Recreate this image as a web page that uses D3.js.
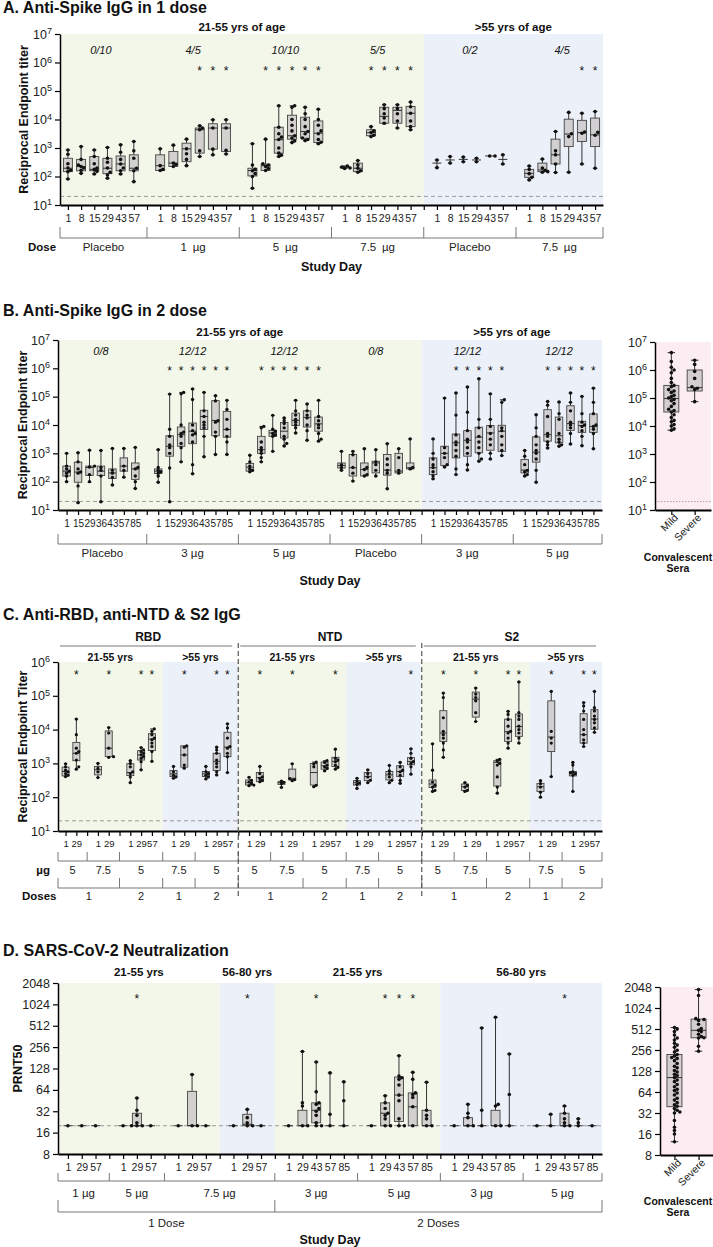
<!DOCTYPE html>
<html><head><meta charset="utf-8">
<script src="https://cdn.jsdelivr.net/npm/d3@7"></script>
<style>
body{margin:0;background:#fff}
svg{display:block;font-family:"Liberation Sans",Arial,Helvetica,sans-serif}
</style>
</head><body>
<svg id="chart" width="713" height="1247"></svg>
<script>
// ================= DATA =================
// ---- Panel A: anti-Spike IgG, 1 dose (values are log10 reciprocal endpoint titer) ----
const aDays = [1, 8, 15, 29, 43, 57];
const aDoseLabels = ["Placebo", "1\u2002µg", "5\u2002µg", "7.5\u2002µg", "Placebo", "7.5\u2002µg"];
const aFractions = ["0/10", "4/5", "10/10", "5/5", "0/2", "4/5"];
const aAges = ["21-55 yrs of age", ">55 yrs of age"];
// [min, q1, median, q3, max]
const aStats = [
  [1.91,2.17,2.29,2.64,2.93],[2.11,2.2,2.35,2.6,3.05],[2.09,2.2,2.25,2.7,2.93],[1.94,2.1,2.29,2.64,3.02],[2.09,2.2,2.44,2.72,3.11],[1.82,2.2,2.29,2.76,3.23],
  [2.21,2.21,2.38,2.76,2.97],[2.35,2.35,2.47,2.88,3.1],[2.38,2.52,2.97,3.17,3.31],[2.7,2.82,3.64,3.7,3.78],[2.76,2.96,3.7,3.85,3.99],[2.79,2.88,3.7,3.85,3.99],
  [1.59,2.02,2.21,2.29,3.15],[2.21,2.21,2.38,2.43,3.31],[2.7,2.82,3.29,3.73,4.48],[3.19,3.31,3.43,4.15,4.48],[3.26,3.34,3.58,4.08,4.43],[3.15,3.19,3.52,3.95,4.36],
  [2.28,2.3,2.33,2.35,2.37],[2.15,2.17,2.29,2.47,2.56],[3.4,3.43,3.54,3.64,3.75],[3.85,3.87,4.11,4.43,4.52],[3.7,3.87,4.32,4.43,4.52],[3.64,3.75,4.22,4.46,4.61],
  [2.31,2.47,2.47,2.47,2.58],[2.47,2.58,2.58,2.58,2.7],[2.52,2.6,2.6,2.6,2.68],[2.52,2.58,2.58,2.58,2.64],[2.72,2.72,2.72,2.72,2.72],[2.44,2.6,2.6,2.6,2.76],
  [1.88,1.97,2.11,2.25,2.37],[2.15,2.17,2.23,2.47,2.61],[2.14,2.44,2.76,3.31,3.58],[2.15,3.05,3.49,4.01,4.25],[2.44,3.23,3.54,3.97,4.22],[2.29,3.05,3.46,4.05,4.28]
];
const aPoints = [
  [2.93,2.78,2.45,2.3,2.22,2.17,1.91],[3.05,2.6,2.4,2.35,2.3,2.22,2.11],[2.93,2.7,2.45,2.3,2.25,2.18,2.09],[3.02,2.64,2.5,2.3,2.15,2.05,1.94],[3.11,2.85,2.6,2.44,2.3,2.2,2.09],[3.23,2.9,2.64,2.29,2.2,1.82],
  [2.97,2.38,2.25,2.21],[3.1,2.47,2.42,2.35],[3.31,2.97,2.8,2.6,2.38],[3.78,3.7,3.64,2.9,2.7],[3.99,3.7,2.96,2.76],[3.99,3.7,2.92,2.79],
  [3.15,2.4,2.25,2.2,2.1,2.0,1.59],[3.31,2.45,2.4,2.35,2.28,2.21],[4.48,3.73,3.5,3.38,3.3,3.0,2.82,2.75,2.7],[4.48,4.43,4.0,3.8,3.6,3.43,3.35,3.25,3.19],[4.43,4.2,4.0,3.75,3.58,3.5,3.35,3.3,3.26],[4.36,4.0,3.8,3.6,3.5,3.3,3.2,3.15],
  [2.37,2.33,2.3,2.28],[2.56,2.4,2.29,2.2,2.15],[3.75,3.6,3.54,3.45,3.4],[4.52,4.38,4.2,4.05,3.87],[4.52,4.38,4.2,3.95,3.7],[4.61,4.45,4.22,3.95,3.75,3.64],
  [2.58,2.31],[2.7,2.47],[2.68,2.52],[2.64,2.52],[2.72,2.72],[2.76,2.44],
  [2.37,2.25,2.1,1.97,1.88],[2.61,2.3,2.22,2.17,2.15],[3.58,2.9,2.76,2.44,2.14],[4.25,3.5,3.4,2.15],[4.22,3.56,3.52,2.44],[4.28,3.55,3.45,2.29]
];
const aStars = [9,10,11,13,14,15,16,17,20,21,22,23,34,35];

// ---- Panel B: anti-Spike IgG, 2 doses (log10 titer) ----
const bDays = [1, 15, 29, 36, 43, 57, 85];
const bDoseLabels = ["Placebo", "3 µg", "5 µg", "Placebo", "3 µg", "5 µg"];
const bFractions = ["0/8", "12/12", "12/12", "0/8", "12/12", "12/12"];
const bAges = ["21-55 yrs of age", ">55 yrs of age"];
const bStats = [
  [2.0,2.2,2.37,2.55,3.0],[1.26,1.98,2.34,2.69,3.02],[1.98,2.22,2.5,2.55,3.11],[1.29,2.22,2.37,2.55,3.1],[1.88,2.11,2.31,2.45,3.17],[2.16,2.37,2.55,2.84,3.17],[1.76,2.08,2.45,2.66,3.21],
  [1.98,2.29,2.37,2.45,3.13],[1.29,2.9,3.25,3.62,5.09],[2.7,3.25,3.66,3.93,5.15],[2.28,3.34,3.78,4.07,5.27],[2.88,3.84,4.3,4.52,5.15],[2.96,3.62,4.16,4.86,5.03],[2.96,3.57,3.84,4.48,4.87],
  [2.35,2.37,2.51,2.64,2.93],[2.7,3.0,3.13,3.6,3.95],[3.07,3.6,3.72,3.81,4.34],[3.26,3.54,3.78,4.09,4.25],[3.72,3.98,4.16,4.42,4.87],[3.46,3.93,4.27,4.5,4.74],[3.43,3.78,4.04,4.28,4.87],
  [2.4,2.48,2.57,2.66,3.07],[2.02,2.2,2.49,2.96,3.07],[2.2,2.2,2.43,2.66,3.16],[2.2,2.31,2.66,2.72,3.13],[1.75,2.23,2.41,2.96,3.34],[2.29,2.31,2.37,3.0,3.16],[2.43,2.45,2.49,2.66,3.51],
  [2.1,2.25,2.49,2.84,3.51],[2.52,2.57,3.0,3.25,4.95],[2.25,2.84,3.37,3.68,5.13],[2.41,2.9,3.46,3.8,5.34],[2.72,3.02,3.57,3.92,5.63],[2.8,3.11,3.72,3.98,5.1],[2.92,3.07,3.78,3.99,4.89],
  [2.2,2.31,2.41,2.78,3.1],[1.98,2.69,3.04,3.58,4.36],[3.19,3.43,3.66,4.54,4.83],[3.25,3.37,3.62,4.28,4.81],[3.33,3.81,4.05,4.68,5.13],[3.27,3.74,3.98,4.13,5.01],[3.16,3.74,3.95,4.39,5.3]
];
const bPoints = [
  [3.0,2.55,2.45,2.37,2.3,2.2,2.0],[3.02,2.7,2.45,2.34,2.3,1.85,1.26],[3.11,2.55,2.52,2.25,2.0],[3.1,2.5,2.4,2.2,1.29],[3.17,2.4,2.3,2.15,1.88],[3.17,2.55,2.4,2.16],[3.21,2.5,2.45,2.2,2.0,1.76],
  [3.13,2.5,2.4,2.35,2.3,2.2,1.98],[5.09,3.85,3.6,3.3,3.2,3.0,2.48,1.29],[5.15,5.1,4.0,3.75,3.7,3.6,3.35,3.2,2.7],[5.27,4.9,4.0,3.8,3.7,3.65,3.4,2.6,2.28],[5.15,4.5,4.3,4.1,4.0,3.9,3.6,2.88],[5.03,4.85,4.15,4.1,3.75,3.6,2.96],[4.87,4.55,4.2,3.85,3.6,3.4,2.96],
  [2.93,2.7,2.55,2.45,2.4,2.35],[3.95,3.9,3.4,3.2,3.1,3.0,2.85,2.7],[4.34,3.85,3.78,3.7,3.65,3.6,3.07],[4.25,4.15,4.05,3.9,3.6,3.5,3.35,3.26],[4.87,4.5,4.35,4.2,4.1,4.0,3.9,3.72],[4.74,4.5,4.35,4.25,4.0,3.8,3.46],[4.87,4.3,4.15,4.0,3.9,3.7,3.5,3.43],
  [3.07,2.6,2.5,2.4],[3.07,2.95,2.5,2.3,2.02],[3.16,2.5,2.43,2.25,2.2],[3.13,2.7,2.6,2.4,2.2],[3.34,2.8,2.6,2.4,2.3,1.75],[3.16,2.85,2.4,2.3],[3.51,2.5,2.45],
  [3.51,3.0,2.8,2.6,2.5,2.35,2.2,2.1],[4.95,3.2,3.0,2.85,2.6,2.52],[5.13,4.35,3.65,3.4,3.3,3.1,2.9,2.45,2.25],[5.34,4.45,3.8,3.5,3.4,3.2,3.0,2.6,2.41],[5.63,4.2,3.9,3.6,3.4,3.2,3.0,2.8,2.72],[5.1,4.2,3.95,3.7,3.5,3.3,3.0,2.8],[4.89,4.8,3.9,3.8,3.6,3.3,3.1,2.92],
  [3.1,2.9,2.6,2.4,2.35,2.25,2.2],[4.36,3.9,3.6,3.3,3.1,3.0,2.8,2.4,1.98],[4.83,4.7,4.3,3.7,3.6,3.4,3.3,3.19],[4.81,4.4,4.2,3.7,3.5,3.4,3.3,3.25],[5.13,4.8,4.5,4.1,4.0,3.9,3.7,3.33],[5.01,4.4,4.1,4.0,3.95,3.8,3.6,3.27],[5.3,4.8,4.4,4.0,3.95,3.85,3.7,3.16]
];
const bStars = [8,9,10,11,12,13,15,16,17,18,19,20,30,31,32,33,34,37,38,39,40,41];

// ---- Convalescent sera, anti-Spike IgG (log10 titer) ----
const convCats = ["Mild", "Severe"];
const convIgGStats = [[3.85,4.5,4.98,5.45,6.62],[4.87,5.25,5.37,6.0,6.35]];
const convIgGPoints = [
  [6.62,6.3,6.1,6.0,5.9,5.7,5.55,5.45,5.4,5.3,5.25,5.2,5.1,5.05,5.0,4.95,4.9,4.8,4.7,4.6,4.55,4.5,4.4,4.3,4.2,4.15,4.05,4.0,3.9,3.85],
  [6.35,6.2,5.95,5.7,5.4,5.35,5.3,4.87]
];

// ---- Panel C: anti-RBD, anti-NTD & S2 IgG (log10 titer) ----
const cAntigens = ["RBD", "NTD", "S2"];
const cDays = [[1,29],[1,29],[1,29,57],[1,29],[1,29,57]];
const cUg = ["5", "7.5", "5", "7.5", "5"];
const cDoses = ["1", "2", "1", "2"];
const cAges = ["21-55 yrs", ">55 yrs"];
const cStats = [
  [2.61,2.63,2.76,2.89,2.99],[2.83,3.08,3.3,3.62,4.31],[2.58,2.66,2.81,2.91,3.0],[3.18,3.2,3.45,3.96,4.06],[2.43,2.64,2.73,2.99,3.08],[2.81,3.1,3.25,3.38,3.47],[3.06,3.38,3.72,3.88,4.02],
  [2.56,2.61,2.69,2.79,2.91],[2.86,2.89,3.25,3.52,3.52],[2.54,2.61,2.69,2.76,2.91],[2.66,2.79,3.06,3.3,3.48],[2.73,3.2,3.48,3.92,4.17],
  [2.34,2.36,2.43,2.51,2.59],[2.46,2.46,2.58,2.73,2.91],[2.29,2.38,2.43,2.46,2.48],[2.49,2.51,2.56,2.83,2.99],[2.31,2.36,2.73,3.0,3.04],[2.78,2.83,2.93,3.04,3.08],[2.83,2.91,3.06,3.18,3.42],
  [2.26,2.36,2.43,2.49,2.56],[2.43,2.49,2.61,2.73,2.81],[2.43,2.51,2.66,2.76,2.94],[2.41,2.61,2.76,2.93,3.03],[2.68,2.96,3.06,3.17,3.43],
  [2.17,2.29,2.39,2.51,3.58],[3.18,3.65,3.9,4.56,5.08],[2.17,2.2,2.31,2.39,2.43],[4.24,4.37,4.9,5.11,5.23],[2.12,2.33,3.03,3.08,3.12],[3.45,3.65,3.94,4.31,4.54],[3.6,3.8,4.09,4.46,5.41],
  [2.0,2.17,2.31,2.41,2.49],[2.61,3.35,3.78,4.85,5.13],[2.17,2.63,2.71,2.76,3.03],[3.5,3.6,3.85,4.47,4.8],[3.92,4.01,4.31,4.59,5.13]
];
const cPoints = [
  [2.99,2.9,2.8,2.75,2.7,2.65,2.61],[4.31,3.85,3.45,3.35,3.3,3.1,2.9,2.83],[3.0,2.85,2.75,2.58],[4.06,3.9,3.45,3.2,3.18],[3.08,3.0,2.9,2.75,2.7,2.6,2.43],[3.47,3.4,3.35,3.3,3.25,3.2,3.15,3.05,2.81],[4.02,3.95,3.85,3.75,3.7,3.6,3.5,3.35,3.06],
  [2.91,2.75,2.65,2.6,2.56],[3.52,3.48,3.25,2.95,2.86],[2.91,2.75,2.7,2.65,2.6,2.54],[3.48,3.4,3.3,3.1,3.0,2.9,2.75,2.66],[4.17,4.05,3.75,3.5,3.45,3.3,3.2,2.73],
  [2.59,2.5,2.45,2.4,2.36,2.34],[2.91,2.7,2.6,2.55,2.5,2.46],[2.48,2.44,2.4,2.29],[2.99,2.55,2.52,2.49],[3.04,2.98,2.9,2.35,2.31],[3.08,3.03,2.95,2.9,2.85,2.78],[3.42,3.15,3.1,3.05,2.95,2.88,2.83],
  [2.56,2.48,2.42,2.38,2.26],[2.81,2.7,2.6,2.5,2.43],[2.94,2.78,2.7,2.6,2.5,2.43],[3.03,2.9,2.8,2.75,2.65,2.5,2.41],[3.43,3.3,3.15,3.05,3.0,2.9,2.68],
  [3.58,2.8,2.45,2.35,2.3,2.2,2.17],[5.08,4.95,4.35,3.95,3.85,3.75,3.6,3.4,3.18],[2.43,2.35,2.3,2.2,2.17],[5.23,5.05,4.95,4.85,4.5,4.24],[3.12,3.08,3.0,2.95,2.6,2.3,2.12],[4.54,4.45,4.3,4.1,3.95,3.9,3.75,3.6,3.45],[5.41,4.5,4.4,4.3,4.1,4.0,3.9,3.75,3.6],
  [2.49,2.4,2.3,2.15,2.0],[5.13,3.95,3.75,3.6,2.61],[3.03,2.95,2.75,2.72,2.7,2.65,2.17],[4.8,4.7,4.55,4.3,4.0,3.85,3.7,3.6,3.5],[5.13,4.65,4.55,4.4,4.3,4.2,4.05,3.92]
];
const cStars = [1,3,5,6,8,10,11, 13,15,18,23, 25,27,29,30,32,34,35];

// ---- Panel D: SARS-CoV-2 neutralization (PRNT50) ----
const dDays1 = [1, 29, 57];
const dDays2 = [1, 29, 43, 57, 85];
const dUg = ["1 µg", "5 µg", "7.5 µg", "3 µg", "5 µg", "3 µg", "5 µg"];
const dDoseLabels = ["1 Dose", "2 Doses"];
const dAges = ["21-55 yrs", "56-80 yrs", "21-55 yrs", "56-80 yrs"];
const dTicks = [8, 16, 32, 64, 128, 256, 512, 1024, 2048];
const dStats = [
  [20,20,20,20,20],[20,20,20,20,20],[20,20,20,20,20],
  [20,20,20,20,20],[20,20,20,30,49],[20,20,20,20,20],
  [20,20,20,20,20],[20,20,20,61,105],[20,20,20,20,20],
  [20,20,20,20,20],[20,20,21,29,34],[20,20,20,20,20],
  [20,20,20,20,20],[20,20,20,33,222],[20,22,33,42,158],[20,20,20,20,111],[20,20,20,20,83],
  [20,20,20,20,20],[20,20,30,42,53],[20,23,54,97,194],[20,20,37,58,113],[20,20,20,33,82],
  [20,20,20,20,20],[20,20,20,26,40],[20,20,20,20,477],[20,20,20,33,675],[20,20,20,20,205],
  [20,20,20,20,20],[20,20,20,20,29],[20,20,20,30,38],[20,20,20,20,25],[20,20,20,20,20]
];
const dPoints = [
  [20],[20],[20],
  [20],[49,33,28,22,20,20,20],[20],
  [20],[105,20,20],[20],
  [20],[34,26,22,20,20],[20],
  [20],[222,42,38,20,20],[158,60,42,40,35,32,28,22,20,20],[111,29,20],[83,45,20],
  [20],[53,42,35,30,28,25,20,20],[194,100,95,90,75,54,45,25,20,20],[113,90,58,55,50,37,20],[82,33,28,25,20,20],
  [20],[40,30,26,20,20],[477,33,20],[675,40,38,20,20],[205,55,20],
  [20],[29,20],[38,30,25,22,20,20],[25,22,20],[20]
];
const dStars = [4, 10, 14, 18, 19, 20, 29];
const convNeutStats = [[12.4,39.4,103,221,537],[246,383,490,710,1880]];
const convNeutPoints = [
  [537,510,470,420,380,355,320,301,280,254,240,221,210,200,194,180,164,150,142,130,124,115,110,103,95,90,82,76,70,67,62,58,52,49,45,42,40,37,35,33,32,25,20,18,16,12.4],
  [1880,1550,720,700,680,600,520,490,470,430,400,383,380,290,246]
];
const LOD = 20;

// ================= DRAWING =================
const svg = d3.select("#chart");
const GREEN = "#f3f7e9", BLUE = "#ecf0f8", PINK = "#fcedf3";
const pow10 = v => Math.pow(10, v);
const ident = v => v;

function layout(sizes) {
  let s = 0;
  const gs = sizes.map(n => { const a = d3.range(s, s + n); s += n + 1; return a; });
  return { N: s - 1, gs };
}

function spread(vals, yf, r) {
  const placed = [];
  const cands = [0, 1, -1, 2, -2, 3, -3, 4, -4, 5, -5];
  return vals.slice().sort((a, b) => a - b).map(v => {
    const yy = yf(v);
    let off = 0;
    for (const c of cands) {
      const cx = c * r * 1.5;
      if (!placed.some(p => Math.hypot(p.x - cx, p.y - yy) < r * 1.6)) { off = cx; break; }
    }
    placed.push({ x: off, y: yy });
    return { x: off, y: yy };
  });
}

function drawBox(g, cx, st, pts, y, w, r) {
  const [mn, q1, md, q3, mx] = st.map(y);
  const cw = Math.max(3, w * 0.5);
  const ln = (x1, y1, x2, y2, c, sw) => g.append("line").attr("x1", x1).attr("y1", y1).attr("x2", x2).attr("y2", y2).attr("stroke", c).attr("stroke-width", sw);
  if (mx < q3) { ln(cx, mx, cx, q3, "#333", 1); ln(cx - cw / 2, mx, cx + cw / 2, mx, "#333", 1); }
  if (mn > q1) { ln(cx, q1, cx, mn, "#333", 1); ln(cx - cw / 2, mn, cx + cw / 2, mn, "#333", 1); }
  g.append("rect").attr("x", cx - w / 2).attr("y", q3).attr("width", w).attr("height", Math.max(0, q1 - q3))
    .attr("fill", "#c6c2c2").attr("fill-opacity", 0.72).attr("stroke", "#444").attr("stroke-width", 0.9);
  ln(cx - w / 2, md, cx + w / 2, md, "#333", 1);
  spread(pts, y, r).forEach(p => g.append("circle").attr("cx", cx + p.x).attr("cy", p.y).attr("r", r).attr("fill", "#111"));
}

function txt(g, x, y, s, opt = {}) {
  const t = g.append("text").attr("x", x).attr("y", y).text(s)
    .attr("font-size", opt.size || 11).attr("text-anchor", opt.anchor || "middle").attr("fill", opt.fill || "#111");
  if (opt.bold) t.attr("font-weight", "bold");
  if (opt.italic) t.attr("font-style", "italic");
  if (opt.rotate) t.attr("transform", `rotate(${opt.rotate},${x},${y})`);
  return t;
}

function powLabels(gAxis) {
  gAxis.selectAll(".tick text").each(function (d) {
    const t = d3.select(this); t.text(null);
    t.append("tspan").text("10");
    t.append("tspan").attr("dy", "-0.5em").attr("font-size", "0.72em").text(Math.round(Math.log10(d)));
  });
}

function styleYAxis(ya, pow) {
  ya.select(".domain").attr("stroke", "#000").attr("stroke-width", 1.5);
  ya.selectAll(".tick line").attr("stroke", "#000").attr("stroke-width", 1.2);
  ya.selectAll(".tick text").attr("font-size", 12.5).attr("fill", "#222").attr("font-family", null);
  if (pow) powLabels(ya);
}

function drawPanel(c) {
  const g = svg.append("g");
  const lay = layout(c.groupSizes);
  const x = d3.scalePoint().domain(d3.range(lay.N)).range([c.L, c.R]).padding(c.pad);
  const y = c.y;
  const last = lay.gs.length - 1;
  const sStart = gi => gi === 0 ? c.L : x(lay.gs[gi][0] - 1);
  const sEnd = gi => gi === last ? c.R : x(lay.gs[gi][lay.gs[gi].length - 1] + 1);
  const gCenter = gi => (x(lay.gs[gi][0]) + x(lay.gs[gi][lay.gs[gi].length - 1])) / 2;

  // backgrounds + age headers
  c.bgs.forEach(([g0, g1, col, lab]) => {
    const x0 = sStart(g0), x1 = sEnd(g1);
    g.append("rect").attr("x", x0).attr("y", c.T).attr("width", x1 - x0).attr("height", c.B - c.T).attr("fill", col);
    txt(g, (x0 + x1) / 2, c.headY, lab, { bold: true, size: c.headSize || 11.5 });
  });
  // LOD
  g.append("line").attr("x1", c.L).attr("x2", c.R).attr("y1", y(LOD)).attr("y2", y(LOD))
    .attr("stroke", "#9a9a9a").attr("stroke-width", 1).attr("stroke-dasharray", "4,3");
  // fractions
  if (c.fractions) c.fractions.forEach((f, gi) => txt(g, gCenter(gi), c.fracY, f, { italic: true, size: 11 }));
  // boxes
  const slots = lay.gs.flat();
  const dayOf = {};
  slots.forEach((s, i) => {
    dayOf[s] = c.days[i];
    drawBox(g, x(s), c.stats[i].map(c.toVal), c.points[i].map(c.toVal), y, c.boxW, c.r);
    if (c.stars.includes(i)) txt(g, x(s), c.starY, "*", { size: 12 });
  });
  // axes
  const ya = g.append("g").attr("transform", `translate(${c.L},0)`)
    .call(d3.axisLeft(y).tickValues(c.yTicks).tickSize(5).tickSizeOuter(0).tickPadding(3).tickFormat(c.yFormat || d3.format("d")));
  styleYAxis(ya, c.pow);
  const xa = g.append("g").attr("transform", `translate(0,${c.B})`)
    .call(d3.axisBottom(x).tickSize(5).tickSizeOuter(0).tickPadding(c.tickPad).tickFormat(s => dayOf[s] !== undefined ? dayOf[s] : ""));
  xa.select(".domain").attr("stroke", "#000").attr("stroke-width", 2);
  xa.selectAll(".tick line").attr("stroke", "#000").attr("stroke-width", 1.2);
  xa.selectAll(".tick text").attr("font-size", c.tickFs).attr("fill", "#222").attr("font-family", null);

  // bracket rows
  c.rows.forEach(row => {
    const bounds = new Set();
    row.spans.forEach(([g0, g1, lab]) => {
      const x0 = sStart(g0), x1 = sEnd(g1);
      bounds.add(x0); bounds.add(x1);
      txt(g, (x0 + x1) / 2, row.labY, lab, { size: row.size || 11.5, fill: "#222" });
    });
    const bx = [...bounds].sort((a, b) => a - b);
    g.append("line").attr("x1", bx[0]).attr("x2", bx[bx.length - 1]).attr("y1", row.line).attr("y2", row.line).attr("stroke", "#777").attr("stroke-width", 1);
    bx.forEach(b => g.append("line").attr("x1", b).attr("x2", b).attr("y1", row.top).attr("y2", row.line).attr("stroke", "#777").attr("stroke-width", 1));
    if (row.side) txt(g, row.side.x, row.labY, row.side.text, { bold: true, anchor: row.side.anchor || "start", size: 11.5 });
  });
  // antigen headers & dashed separators (panel C)
  if (c.antigens) {
    c.antigens.forEach(([g0, g1, lab]) => {
      const x0 = sStart(g0), x1 = sEnd(g1);
      g.append("line").attr("x1", x0 + 2).attr("x2", x1 - 6).attr("y1", c.antLine).attr("y2", c.antLine).attr("stroke", "#777").attr("stroke-width", 1);
      txt(g, (x0 + x1) / 2, c.antY, lab, { bold: true, size: 12 });
    });
    c.dashAfter.forEach(gi => {
      const xx = sEnd(gi);
      g.append("line").attr("x1", xx).attr("x2", xx).attr("y1", c.dashY[0]).attr("y2", c.dashY[1])
        .attr("stroke", "#555").attr("stroke-width", 1.2).attr("stroke-dasharray", "5,3");
    });
  }
  // titles
  txt(g, c.yTitleX, (c.T + c.B) / 2, c.yTitle, { bold: true, size: 12.5, rotate: -90 });
  if (c.studyDayY) txt(g, (c.L + c.R) / 2, c.studyDayY, "Study Day", { bold: true, size: 12.5 });
  txt(g, 3, c.titleY, c.title, { bold: true, size: 16, anchor: "start" });
}

function drawConv(c) {
  const g = svg.append("g");
  const x = d3.scalePoint().domain(convCats).range([c.L, c.R]).padding(c.pad);
  const y = c.y;
  g.append("rect").attr("x", c.L).attr("y", c.T).attr("width", c.R - c.L).attr("height", c.B - c.T).attr("fill", PINK);
  if (c.lod) g.append("line").attr("x1", c.L).attr("x2", c.R).attr("y1", y(LOD)).attr("y2", y(LOD))
    .attr("stroke", "#b89aa8").attr("stroke-width", 1).attr("stroke-dasharray", "1.5,1.5");
  convCats.forEach((cat, i) => drawBox(g, x(cat), c.stats[i].map(c.toVal), c.points[i].map(c.toVal), y, 15, 1.8));
  const ya = g.append("g").attr("transform", `translate(${c.L},0)`)
    .call(d3.axisLeft(y).tickValues(c.yTicks).tickSize(5).tickSizeOuter(0).tickPadding(3).tickFormat(c.yFormat || d3.format("d")));
  styleYAxis(ya, c.pow);
  const xa = g.append("g").attr("transform", `translate(0,${c.B})`)
    .call(d3.axisBottom(x).tickSize(5).tickSizeOuter(0));
  xa.select(".domain").attr("stroke", "#000").attr("stroke-width", 2);
  xa.selectAll(".tick line").attr("stroke", "#000").attr("stroke-width", 1.2);
  xa.selectAll(".tick text").attr("font-size", 10.5).attr("fill", "#222").attr("font-family", null)
    .attr("text-anchor", "end").attr("x", -1).attr("y", 7).attr("dy", "0.35em").attr("transform", "rotate(-45)");
  txt(g, c.labX, c.labY, "Convalescent", { bold: true, size: 10.5 });
  txt(g, c.labX, c.labY + 11, "Sera", { bold: true, size: 10.5 });
}

// ---- Panel A ----
drawPanel({
  title: "A.  Anti-Spike IgG in 1 dose", titleY: 13,
  L: 60, R: 603, T: 34, B: 205, pad: 0.6,
  y: d3.scaleLog().domain([10, 1e7]).range([205, 34]), yTicks: [1e1,1e2,1e3,1e4,1e5,1e6,1e7], pow: true,
  toVal: pow10, groupSizes: [6,6,6,6,6,6],
  days: d3.range(6).flatMap(() => aDays), stats: aStats, points: aPoints, stars: aStars,
  bgs: [[0,3,GREEN,aAges[0]],[4,5,BLUE,aAges[1]]], headY: 31,
  fractions: aFractions, fracY: 54, starY: 75, boxW: 9, r: 1.8,
  tickPad: 5, tickFs: 10.5,
  rows: [{ top: 227, line: 238, labY: 251, spans: aDoseLabels.map((l, i) => [i, i, l]), side: { x: 28, text: "Dose" } }],
  yTitle: "Reciprocal Endpoint titer", yTitleX: 28, studyDayY: 271
});

// ---- Panel B ----
drawPanel({
  title: "B.  Anti-Spike IgG in 2 dose", titleY: 316,
  L: 58, R: 602, T: 340, B: 510, pad: 0.75,
  y: d3.scaleLog().domain([10, 1e7]).range([510, 340]), yTicks: [1e1,1e2,1e3,1e4,1e5,1e6,1e7], pow: true,
  toVal: pow10, groupSizes: [7,7,7,7,7,7],
  days: d3.range(6).flatMap(() => bDays), stats: bStats, points: bPoints, stars: bStars,
  bgs: [[0,3,GREEN,bAges[0]],[4,5,BLUE,bAges[1]]], headY: 336,
  fractions: bFractions, fracY: 355, starY: 375, boxW: 7.5, r: 1.7,
  tickPad: 5, tickFs: 10,
  rows: [{ top: 534, line: 544, labY: 557, spans: bDoseLabels.map((l, i) => [i, i, l]) }],
  yTitle: "Reciprocal Endpoint titer", yTitleX: 27, studyDayY: 585
});
drawConv({
  L: 655, R: 711, T: 342, B: 510, pad: 0.7,
  y: d3.scaleLog().domain([10, 1e7]).range([510, 342]), yTicks: [1e1,1e2,1e3,1e4,1e5,1e6,1e7], pow: true,
  toVal: pow10, stats: convIgGStats, points: convIgGPoints, lod: true, labX: 678, labY: 561
});

// ---- Panel C ----
const cGroupSizes = cAntigens.flatMap(() => cDays.map(d => d.length));
drawPanel({
  title: "C.  Anti-RBD, anti-NTD & S2 IgG", titleY: 620,
  L: 58, R: 602, T: 662, B: 831, pad: 0.7,
  y: d3.scaleLog().domain([10, 1e6]).range([831, 662]), yTicks: [1e1,1e2,1e3,1e4,1e5,1e6], pow: true,
  toVal: pow10, groupSizes: cGroupSizes,
  days: cAntigens.flatMap(() => cDays.flat()), stats: cStats, points: cPoints, stars: cStars,
  bgs: [0,5,10].flatMap(o => [[o,o+2,GREEN,cAges[0]],[o+3,o+4,BLUE,cAges[1]]]), headY: 661, headSize: 10.5,
  starY: 679, boxW: 7, r: 1.6,
  tickPad: 4, tickFs: 9.5,
  rows: [
    { top: 852, line: 861, labY: 874, size: 11, spans: [0,5,10].flatMap(o => cUg.map((u, i) => [o+i, o+i, u])), side: { x: 50, text: "µg", anchor: "end" } },
    { top: 878, line: 888, labY: 900, size: 11, spans: [0,5,10].flatMap(o => [[o,o+1,cDoses[0]],[o+2,o+2,cDoses[1]],[o+3,o+3,cDoses[2]],[o+4,o+4,cDoses[3]]]), side: { x: 22, text: "Doses" } }
  ],
  antigens: [[0,4,cAntigens[0]],[5,9,cAntigens[1]],[10,14,cAntigens[2]]], antY: 641, antLine: 646,
  dashAfter: [4, 9], dashY: [643, 897],
  yTitle: "Reciprocal Endpoint Titer", yTitleX: 27
});

// ---- Panel D ----
drawPanel({
  title: "D.  SARS-CoV-2 Neutralization", titleY: 956,
  L: 58, R: 602, T: 983, B: 1154, pad: 0.72,
  y: d3.scaleLog().base(2).domain([8, 2048]).range([1154, 983]), yTicks: dTicks, pow: false,
  toVal: ident, groupSizes: [3,3,3,3,5,5,5,5],
  days: [...dDays1, ...dDays1, ...dDays1, ...dDays1, ...dDays2, ...dDays2, ...dDays2, ...dDays2],
  stats: dStats, points: dPoints, stars: dStars,
  bgs: [[0,2,GREEN,dAges[0]],[3,3,BLUE,dAges[1]],[4,5,GREEN,dAges[2]],[6,7,BLUE,dAges[3]]], headY: 976,
  starY: 1003, boxW: 9, r: 1.8,
  tickPad: 5, tickFs: 10.5,
  rows: [
    { top: 1173, line: 1181, labY: 1197, spans: [[0,0,dUg[0]],[1,1,dUg[1]],[2,3,dUg[2]],[4,4,dUg[3]],[5,5,dUg[4]],[6,6,dUg[5]],[7,7,dUg[6]]] },
    { top: 1200, line: 1212, labY: 1227, spans: [[0,3,dDoseLabels[0]],[4,7,dDoseLabels[1]]] }
  ],
  yTitle: "PRNT50", yTitleX: 22, studyDayY: 1244
});
drawConv({
  L: 660, R: 713, T: 987, B: 1155, pad: 0.6,
  y: d3.scaleLog().base(2).domain([8, 2048]).range([1155, 987]), yTicks: dTicks, pow: false,
  toVal: ident, stats: convNeutStats, points: convNeutPoints, lod: false, labX: 678, labY: 1205
});
</script>
</body></html>
